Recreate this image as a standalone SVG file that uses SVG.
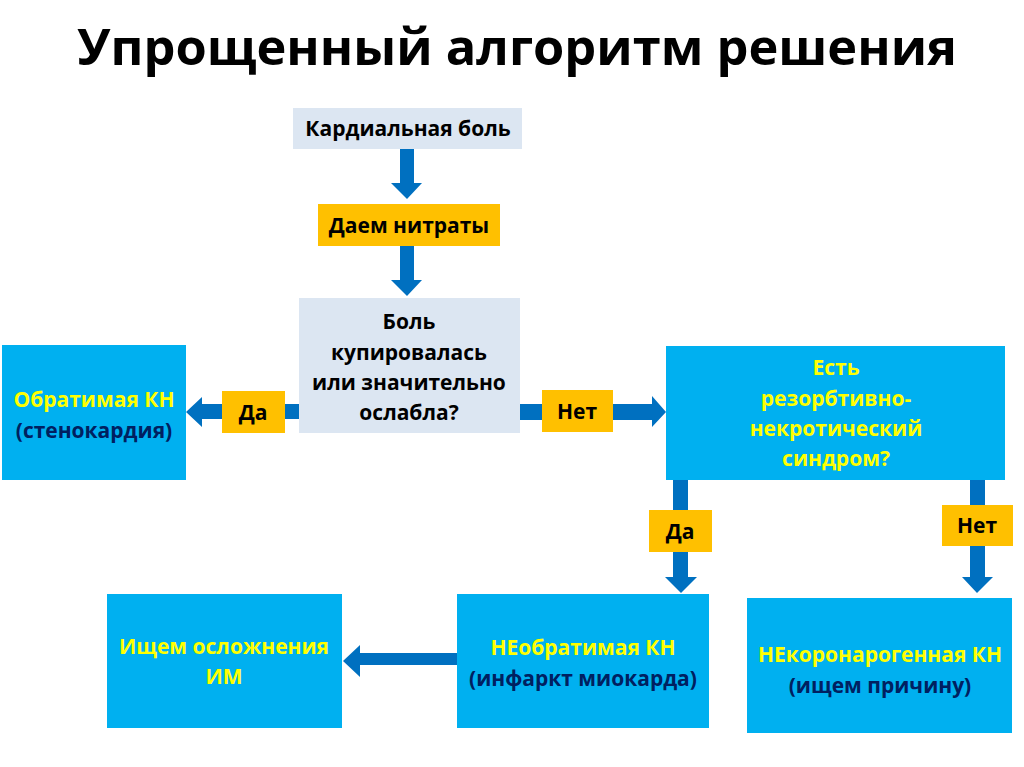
<svg xmlns="http://www.w3.org/2000/svg" width="1024" height="767" viewBox="0 0 1024 767">
<style>
.t{font-family:"Open Sans","Liberation Sans",sans-serif;font-weight:700;text-anchor:middle}
.title{font-size:50px;fill:#000}
.b{font-size:21px;fill:#000}
.y{font-size:21px;fill:#FFFF00}
.n{font-size:21px;fill:#002060}
.light{fill:#DCE6F2}
.org{fill:#FFC000}
.blue{fill:#00B0F0}
.arr{fill:#0070C0}
</style>
<rect width="1024" height="767" fill="#fff"/>
<text class="t title" x="517" y="65" textLength="880" lengthAdjust="spacingAndGlyphs">Упрощенный алгоритм решения</text>

<g id="connectors">
<polygon class="arr" points="400,149 414,149 414,183 422,183 407,199 391,183 400,183"/>
<polygon class="arr" points="400,246 414,246 414,280 422,280 407,296 391,280 400,280"/>
<polygon class="arr" points="299,404 299,419 202,419 202,427 186,412 202,397 202,404"/>
<polygon class="arr" points="520,404 520,420 652,420 652,427 666,412 652,396 652,404"/>
<polygon class="arr" points="673,480 688,480 688,577 697,577 681,593 665,577 673,577"/>
<polygon class="arr" points="970,480 985,480 985,577 993,577 977,593 962,577 970,577"/>
<polygon class="arr" points="457,653 457,665 360,665 360,677 343,661 360,645 360,653"/>
</g>

<g id="n-cardial">
<rect class="light" x="293" y="108" width="229" height="41"/>
<text class="t b" x="408" y="136">Кардиальная боль</text>
</g>
<g id="n-nitrates">
<rect class="org" x="318" y="204" width="182" height="42"/>
<text class="t b" x="409" y="233">Даем нитраты</text>
</g>
<g id="n-question">
<rect class="light" x="299" y="298" width="221" height="135"/>
<text class="t b" x="409" y="329">Боль</text>
<text class="t b" x="409" y="360">купировалась</text>
<text class="t b" x="409" y="390">или значительно</text>
<text class="t b" x="409" y="420">ослабла?</text>
</g>
<g id="l-da1">
<rect class="org" x="222" y="391" width="63" height="42"/>
<text class="t b" x="253" y="420">Да</text>
</g>
<g id="l-net1">
<rect class="org" x="542" y="390" width="71" height="42"/>
<text class="t b" x="577" y="419">Нет</text>
</g>
<g id="n-reversible">
<rect class="blue" x="2" y="345" width="184" height="135"/>
<text class="t y" x="94" y="407">Обратимая КН</text>
<text class="t n" x="94" y="438">(стенокардия)</text>
</g>
<g id="n-syndrome">
<rect class="blue" x="666" y="346" width="339" height="134"/>
<text class="t y" x="836" y="375">Есть</text>
<text class="t y" x="836" y="406">резорбтивно-</text>
<text class="t y" x="836" y="436">некротический</text>
<text class="t y" x="836" y="466">синдром?</text>
</g>
<g id="l-da2">
<rect class="org" x="649" y="510" width="63" height="42"/>
<text class="t b" x="680" y="539">Да</text>
</g>
<g id="l-net2">
<rect class="org" x="942" y="505" width="71" height="41"/>
<text class="t b" x="977" y="533">Нет</text>
</g>
<g id="n-complications">
<rect class="blue" x="107" y="594" width="235" height="134"/>
<text class="t y" x="224" y="654">Ищем осложнения</text>
<text class="t y" x="224" y="684">ИМ</text>
</g>
<g id="n-irreversible">
<rect class="blue" x="457" y="594" width="252" height="134"/>
<text class="t y" x="583" y="655">НЕобратимая КН</text>
<text class="t n" x="583" y="686">(инфаркт миокарда)</text>
</g>
<g id="n-noncoronary">
<rect class="blue" x="747" y="598" width="265" height="135"/>
<text class="t y" x="880" y="662">НЕкоронарогенная КН</text>
<text class="t n" x="880" y="693">(ищем причину)</text>
</g>
</svg>
